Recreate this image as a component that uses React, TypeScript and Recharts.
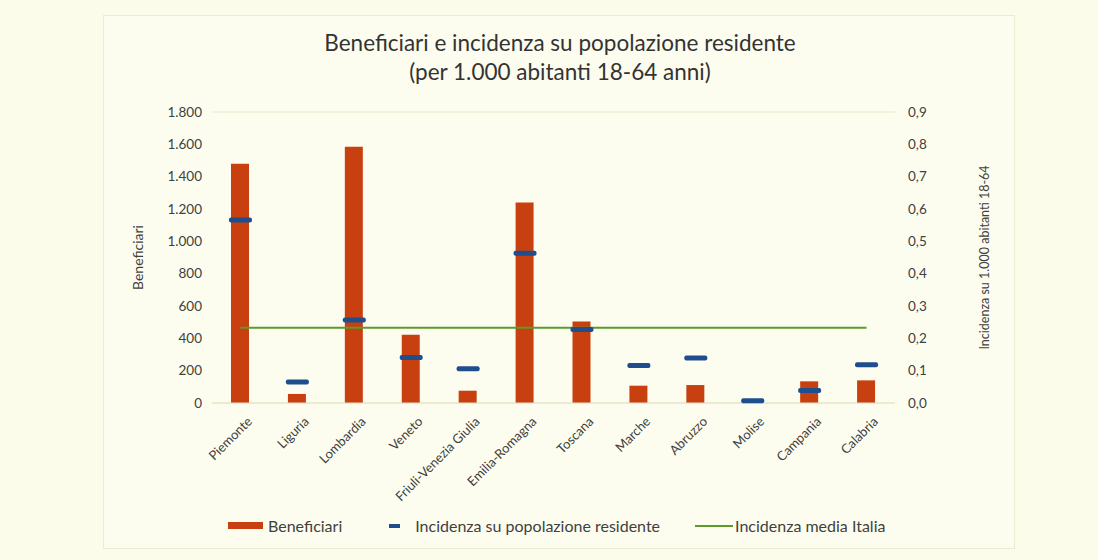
import React from 'react';
import { ComposedChart, Bar, Line, XAxis, YAxis, CartesianGrid } from 'recharts';

const regions = ['Piemonte', 'Liguria', 'Lombardia', 'Veneto', 'Friuli-Venezia Giulia', 'Emilia-Romagna', 'Toscana', 'Marche', 'Abruzzo', 'Molise', 'Campania', 'Calabria'];
const beneficiari = [1480, 56, 1585, 422, 76, 1240, 504, 107, 111, 3, 134, 140];
const incidenza = [0.566, 0.065, 0.257, 0.141, 0.106, 0.463, 0.227, 0.116, 0.139, 0.007, 0.039, 0.118];
const mediaItalia = 0.233;
const leftTicks = [0, 200, 400, 600, 800, 1000, 1200, 1400, 1600, 1800];
const rightTicks = [0, 0.1, 0.2, 0.3, 0.4, 0.5, 0.6, 0.7, 0.8, 0.9];

const data = regions.map((r, i) => ({
  region: r,
  beneficiari: beneficiari[i],
  incidenza: incidenza[i],
  media: mediaItalia,
}));

const FONT = 'Lato, "Open Sans", sans-serif';
const TXT = '#404040';
const RED = '#c8400f';
const BLUE = '#1f4e8e';
const GREEN = '#5d9a2e';

const fmtThousands = (v: number) => String(v).replace(/\B(?=(\d{3})+(?!\d))/g, '.');
const fmtComma = (v: number) => v.toFixed(1).replace('.', ',');

const RegionTick = (props: any) => {
  const { x, y, payload } = props;
  return (
    <g transform={`translate(${x + 5},${y + 4})`}>
      <text transform="rotate(-45)" textAnchor="end" dominantBaseline="hanging" fontSize={13} fill={TXT} fontFamily={FONT}>
        {payload.value}
      </text>
    </g>
  );
};

const Dash = (props: any) => {
  const { cx, cy } = props;
  if (cx == null || cy == null) return null;
  return <rect x={cx - 11.5} y={cy - 2.5} width={23} height={5} rx={2} fill={BLUE} />;
};

const ChartLegend = () => (
  <div style={{ position: 'absolute', left: 228, top: 516, display: 'flex', alignItems: 'center', fontFamily: FONT, fontSize: 16, color: TXT, whiteSpace: 'nowrap' }}>
    <span style={{ display: 'inline-block', width: 35, height: 7, background: RED, marginRight: 5 }} />
    <span style={{ marginRight: 47 }}>Beneficiari</span>
    <span style={{ display: 'inline-block', width: 11, height: 4, background: BLUE, marginRight: 15 }} />
    <span style={{ marginRight: 35 }}>Incidenza su popolazione residente</span>
    <span style={{ display: 'inline-block', width: 38, height: 2, background: GREEN, marginRight: 2 }} />
    <span>Incidenza media Italia</span>
  </div>
);

export default function App() {
  return (
    <div style={{ position: 'fixed', left: 0, top: 0, width: 1098, height: 560, background: '#fcfcea', fontFamily: FONT }}>
      <div style={{ position: 'absolute', left: 103, top: 15, width: 910, height: 532, background: '#fdfdef', border: '1px solid #ecebd4' }} />
      <div style={{ position: 'absolute', left: 0, top: 28, width: 1120, textAlign: 'center', fontSize: 22.5, lineHeight: '29px', color: '#333' }}>
        Beneficiari e incidenza su popolazione residente
        <br />
        (per 1.000 abitanti 18-64 anni)
      </div>
      <div style={{ position: 'absolute', left: 0, top: 0 }}>
        <ComposedChart
          width={1098}
          height={560}
          data={data}
          margin={{ top: 112, right: 103, bottom: 57, left: 100 }}
          barCategoryGap={0}
        >
          <CartesianGrid vertical={false} stroke="#e9e8c9" strokeWidth={1} />
          <XAxis
            dataKey="region"
            interval={0}
            tick={<RegionTick />}
            tickLine={false}
            axisLine={{ stroke: '#e4e3c6' }}
            height={100}
          />
          <YAxis
            yAxisId="left"
            orientation="left"
            width={112}
            domain={[0, 1800]}
            ticks={leftTicks}
            tickFormatter={fmtThousands}
            tick={{ fontSize: 13.5, fill: TXT, fontFamily: FONT }}
            tickLine={false}
            axisLine={false}
            tickMargin={4}
            label={{ value: 'Beneficiari', angle: -90, position: 'insideLeft', offset: 38, style: { fontSize: 14, fill: TXT, fontFamily: FONT, textAnchor: 'middle' } }}
          />
          <YAxis
            yAxisId="right"
            orientation="right"
            width={100}
            domain={[0, 0.9]}
            ticks={rightTicks}
            tickFormatter={fmtComma}
            tick={{ fontSize: 13.5, fill: TXT, fontFamily: FONT }}
            tickLine={false}
            axisLine={false}
            tickMargin={7}
            label={{ value: 'Incidenza su 1.000 abitanti 18-64', angle: -90, position: 'insideRight', offset: 10, style: { fontSize: 12.5, fill: TXT, fontFamily: FONT, textAnchor: 'middle' } }}
          />
          <Bar yAxisId="left" dataKey="beneficiari" fill={RED} barSize={18} isAnimationActive={false} />
          <Line yAxisId="right" dataKey="media" stroke={GREEN} strokeWidth={2} dot={false} activeDot={false} isAnimationActive={false} />
          <Line yAxisId="right" dataKey="incidenza" stroke="none" dot={<Dash />} activeDot={false} isAnimationActive={false} />
        </ComposedChart>
      </div>
      <ChartLegend />
    </div>
  );
}
